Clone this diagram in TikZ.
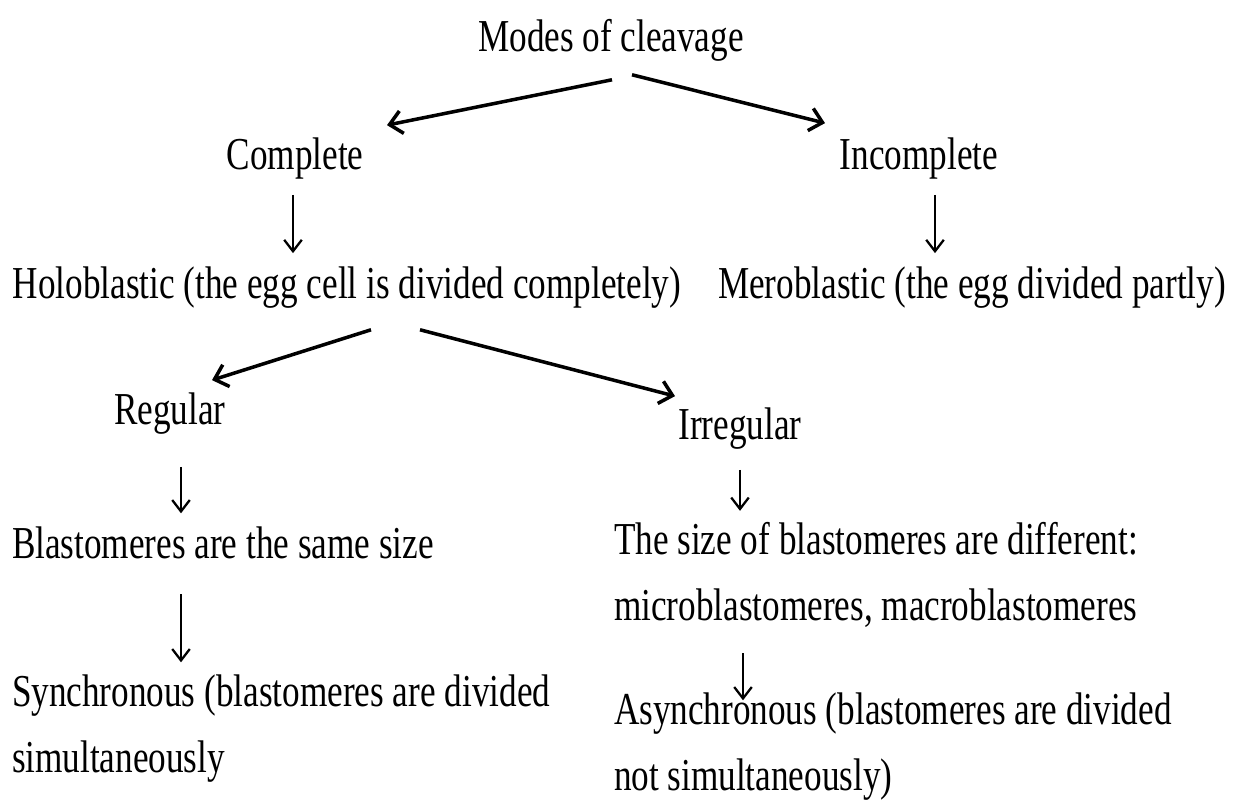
\documentclass[tikz,border=0pt]{standalone}
\usepackage{fontspec}
\setmainfont{Liberation Serif}[FakeStretch=0.77]
\usetikzlibrary{arrows.meta, calc}

\begin{document}
\begin{tikzpicture}[
  x=0.02cm, y=-0.02cm,
  every node/.style={inner sep=0pt, outer sep=0pt, font=\fontsize{26}{37}\selectfont},
  label/.style={anchor=base, text height=17pt, text depth=5pt},
  para/.style={anchor=base west, align=left},
  arrow/.style={-{Straight Barb[length=7pt, width=13pt]}, line width=2pt},
  smallarrow/.style={-{Straight Barb[length=6.5pt, width=10pt]}, line width=1.3pt},
]
\useasboundingbox (0,0) rectangle (1241,804);

% Nodes
\node[label] (modes)      at (611,52)  {Modes of cleavage};
\node[label] (complete)   at (295,170) {Complete};
\node[label] (incomplete) at (919,170) {Incomplete};
\node[label] (holo)       at (347,298) {Holoblastic (the egg cell is divided completely)};
\node[label] (mero)       at (972,298) {Meroblastic (the egg divided partly)};
\node[label] (regular)    at (170,424) {Regular};
\node[label] (irregular)  at (740,439) {Irregular};
\node[para]  (same)       at (12,558)  {Blastomeres are the same size};
\node[para]  (diff)       at (614,620) {The size of blastomeres are different:\\microblastomeres, macroblastomeres};
\node[para]  (sync)       at (12,772)  {Synchronous (blastomeres are divided\\simultaneously};
\node[para]  (async)      at (614,790) {Asynchronous (blastomeres are divided\\not simultaneously)};

% Arrows
\draw[arrow] ($(modes.south)+(1,19)$)  -- ($(complete.north)+(92,-15)$);
\draw[arrow] ($(modes.south)+(21,14)$) -- ($(incomplete.north)+(-94,-17)$);
\draw[smallarrow] ($(complete.south)+(-2,16)$) -- ($(complete.south |- holo.north)+(-2,-15)$);
\draw[smallarrow] ($(incomplete.south)+(16,16)$) -- ($(incomplete.south |- mero.north)+(16,-15)$);
\draw[arrow] ($(holo.south)+(24,23)$) -- ($(regular.north)+(42,-14)$);
\draw[arrow] ($(holo.south)+(73,23)$) -- ($(irregular.north)+(-65,-13)$);
\draw[smallarrow] ($(regular.south)+(11,34)$) -- ($(regular.south |- same.north)+(11,-13)$);
\draw[smallarrow] ($(regular.south |- same.south)+(11,36)$) -- ($(regular.south |- sync.north)+(11,-13)$);
\draw[smallarrow] ($(irregular.south)+(0,22)$) -- ($(irregular.south |- diff.north)+(0,-12)$);
\draw[smallarrow] ($(irregular.south |- diff.south)+(3,26)$) -- ($(irregular.south |- async.north)+(3,7)$);

\end{tikzpicture}
\end{document}
